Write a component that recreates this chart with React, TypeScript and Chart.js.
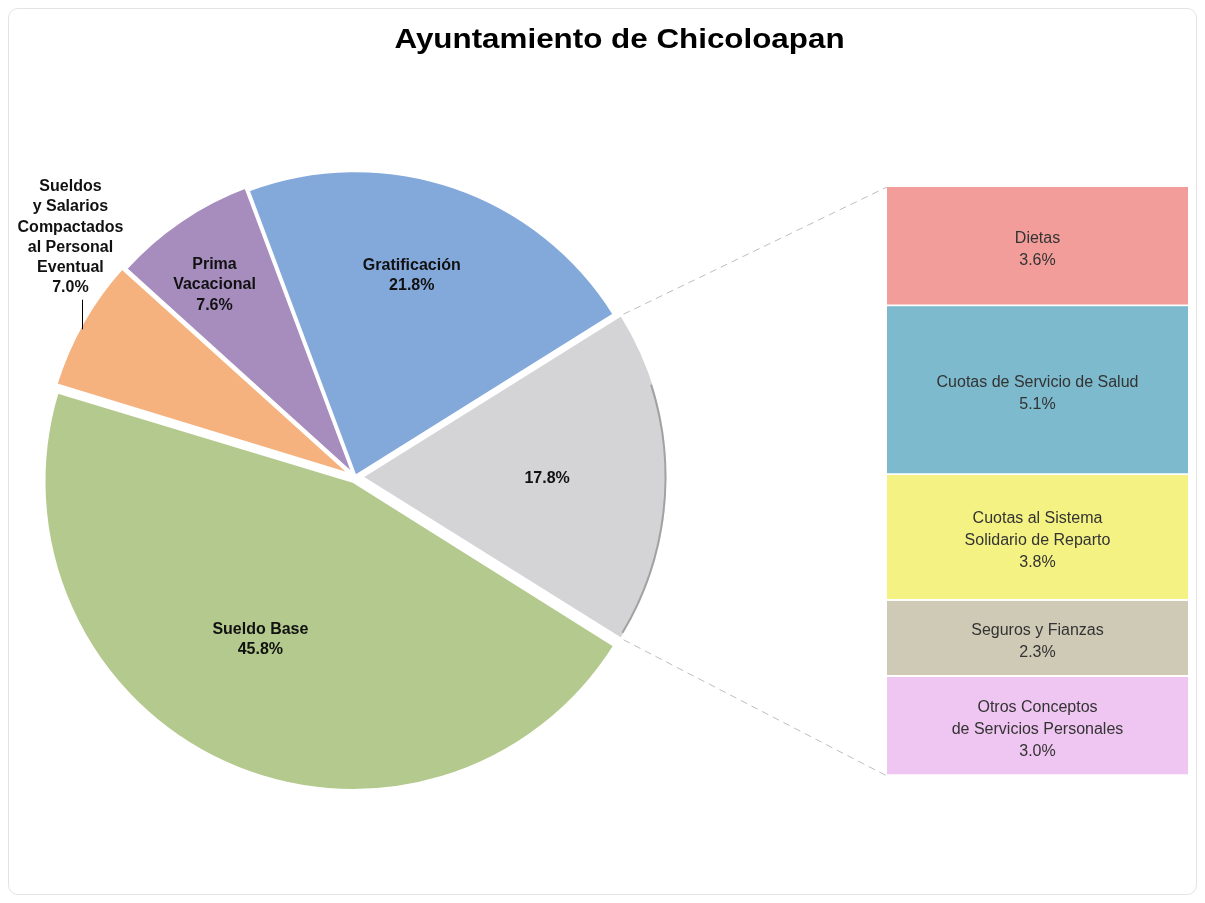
import React, { useEffect, useRef } from "react";
import { Chart, registerables } from "chart.js";

Chart.register(...registerables);

// ---------------- data ----------------
const chartTitle = "Ayuntamiento de Chicoloapan";

const pieCategories = [
  "Sueldo Base",
  "Sueldos y Salarios Compactados al Personal Eventual",
  "Prima Vacacional",
  "Gratificación",
  "Otros",
];
const pieLabelLines = [
  ["Sueldo Base"],
  ["Sueldos", "y Salarios", "Compactados", "al Personal", "Eventual"],
  ["Prima", "Vacacional"],
  ["Gratificación"],
  [],
];
const pieValues = [45.8, 7.0, 7.6, 21.8, 17.8];
const pieColors = ["#B4C98D", "#F5B27E", "#A68DBE", "#83A8DA", "#D4D4D6"];

const barCategories = [
  "Dietas",
  "Cuotas de Servicio de Salud",
  "Cuotas al Sistema Solidario de Reparto",
  "Seguros y Fianzas",
  "Otros Conceptos de Servicios Personales",
];
const barLabelLines = [
  ["Dietas"],
  ["Cuotas de Servicio de Salud"],
  ["Cuotas al Sistema", "Solidario de Reparto"],
  ["Seguros y Fianzas"],
  ["Otros Conceptos", "de Servicios Personales"],
];
const barValues = [3.6, 5.1, 3.8, 2.3, 3.0];
const barColors = ["#F29D99", "#7DBACD", "#F4F283", "#CFCAB6", "#EFC5F1"];

// ---------------- layout / styles ----------------
const W = 1189;
const H = 887;
const PIE_CX = 347;
const PIE_CY = 469;
const PIE_R = 305;
const pieOffsets = [20, 20, 12, 4, 28];
const pieLabelPlacement = [
  { shift: 5.7, frac: 0.617, outside: false },
  { shift: 10.6, frac: 1.22, outside: true },
  { shift: -2, frac: 0.78, outside: false },
  { shift: -3, frac: 0.687, outside: false },
  { shift: 0.6, frac: 0.63, outside: false },
];
const BAR_BOX = { left: 879, top: 179, width: 301, height: 589 };
const FONT = '"Liberation Sans", Arial, Helvetica, sans-serif';

const fmt = (v: number) => v.toFixed(1) + "%";

export default function App() {
  const pieRef = useRef<HTMLCanvasElement | null>(null);
  const barRef = useRef<HTMLCanvasElement | null>(null);

  useEffect(() => {
    if (!pieRef.current || !barRef.current) return;

    const barTotal = barValues.reduce((a, b) => a + b, 0);

    const barLabelPlugin = {
      id: "barLabels",
      afterDatasetsDraw(chart: any) {
        const ctx = chart.ctx;
        ctx.save();
        ctx.font = `16px ${FONT}`;
        ctx.fillStyle = "#333333";
        ctx.textAlign = "center";
        ctx.textBaseline = "middle";
        chart.data.datasets.forEach((ds: any, i: number) => {
          const el = chart.getDatasetMeta(i).data[0];
          const p = el.getProps(["x", "y", "base"], true);
          const lines = [...barLabelLines[i], fmt(barValues[i])];
          const cy = (p.y + p.base) / 2 + 3;
          const lh = 22;
          lines.forEach((t, k) => {
            ctx.fillText(t, p.x, cy + (k - (lines.length - 1) / 2) * lh);
          });
        });
        ctx.restore();
      },
    };

    const barChart = new Chart(barRef.current, {
      type: "bar",
      data: {
        labels: [""],
        datasets: barValues.map((v, i) => ({
          label: barCategories[i],
          data: [v],
          backgroundColor: barColors[i],
          borderColor: "rgba(255,255,255,0.85)",
          borderWidth: { top: 0, left: 0, right: 0, bottom: 2 },
          borderSkipped: false,
          barPercentage: 1,
          categoryPercentage: 1,
        })),
      },
      options: {
        responsive: false,
        animation: false,
        layout: { padding: 0 },
        plugins: { legend: { display: false }, tooltip: { enabled: false } },
        scales: {
          x: { stacked: true, display: false },
          y: { stacked: true, display: false, reverse: true, min: 0, max: barTotal },
        },
      },
      plugins: [barLabelPlugin],
    } as any);

    const pieTotal = pieValues.reduce((a, b) => a + b, 0);
    const otherIndex = pieValues.length - 1;
    const rotation = 90 + ((pieValues[otherIndex] / pieTotal) * 360) / 2;

    const titlePlugin = {
      id: "titleText",
      afterDraw(chart: any) {
        const ctx = chart.ctx;
        ctx.save();
        ctx.font = `bold 28px ${FONT}`;
        ctx.fillStyle = "#000000";
        ctx.textAlign = "center";
        ctx.textBaseline = "alphabetic";
        ctx.translate(611.5, 40);
        ctx.scale(1.12, 1);
        ctx.fillText(chartTitle, 0, 0);
        ctx.restore();
      },
    };

    const connectorPlugin = {
      id: "connectors",
      afterDatasetsDraw(chart: any) {
        const ctx = chart.ctx;
        const arc = chart.getDatasetMeta(0).data[otherIndex];
        const p = arc.getProps(["x", "y", "startAngle", "endAngle", "outerRadius"], true);
        const off = (arc.options.offset || 0) / 4;
        const mid = (p.startAngle + p.endAngle) / 2;
        const cx = p.x + Math.cos(mid) * off;
        const cy = p.y + Math.sin(mid) * off;
        const R = p.outerRadius;
        const a1 = { x: cx + Math.cos(p.startAngle) * R, y: cy + Math.sin(p.startAngle) * R };
        const a2 = { x: cx + Math.cos(p.endAngle) * R, y: cy + Math.sin(p.endAngle) * R };

        // subtle darker rim on the exploded slice
        ctx.save();
        ctx.strokeStyle = "rgba(120,120,120,0.55)";
        ctx.lineWidth = 2;
        ctx.beginPath();
        ctx.arc(cx, cy, R - 1.5, p.startAngle + 0.25, p.endAngle - 0.02);
        ctx.stroke();
        ctx.restore();

        const firstEl = barChart.getDatasetMeta(0).data[0] as any;
        const lastEl = barChart.getDatasetMeta(barValues.length - 1).data[0] as any;
        const f = firstEl.getProps(["x", "y", "base", "width"], true);
        const l = lastEl.getProps(["x", "y", "base", "width"], true);
        const bx = f.x - f.width / 2 + BAR_BOX.left;
        const bTop = Math.min(f.y, f.base) + BAR_BOX.top;
        const bBot = Math.max(l.y, l.base) + BAR_BOX.top;

        ctx.save();
        ctx.strokeStyle = "#BDBDBD";
        ctx.lineWidth = 1;
        ctx.setLineDash([7, 5]);
        ctx.beginPath();
        ctx.moveTo(a1.x + 3, a1.y - 1);
        ctx.lineTo(bx, bTop);
        ctx.moveTo(a2.x + 3, a2.y + 1);
        ctx.lineTo(bx, bBot);
        ctx.stroke();
        ctx.restore();
      },
    };

    const pieLabelPlugin = {
      id: "pieLabels",
      afterDatasetsDraw(chart: any) {
        const ctx = chart.ctx;
        const meta = chart.getDatasetMeta(0);
        ctx.save();
        ctx.font = `bold 16px ${FONT}`;
        ctx.fillStyle = "#111111";
        ctx.textAlign = "center";
        ctx.textBaseline = "middle";
        meta.data.forEach((arc: any, i: number) => {
          const p = arc.getProps(["x", "y", "startAngle", "endAngle", "outerRadius"], true);
          const place = pieLabelPlacement[i];
          const midOrig = (p.startAngle + p.endAngle) / 2;
          const mid = midOrig + (place.shift * Math.PI) / 180;
          const r = p.outerRadius * place.frac;
          const lx = p.x + Math.cos(mid) * r;
          const ly = p.y + Math.sin(mid) * r;
          const lines = [...pieLabelLines[i], fmt(pieValues[i])];
          const lh = 20.2;
          lines.forEach((t, k) => {
            ctx.fillText(t, lx, ly + (k - (lines.length - 1) / 2) * lh);
          });
          if (place.outside) {
            const off = (arc.options.offset || 0) / 4;
            const tcx = p.x + Math.cos(midOrig) * off;
            const tcy = p.y + Math.sin(midOrig) * off;
            const lineX = lx + 12;
            const startY = ly + ((lines.length - 1) / 2) * lh + 12;
            const dx = lineX - tcx;
            const endY = tcy - Math.sqrt(Math.max(p.outerRadius * p.outerRadius - dx * dx, 0));
            ctx.strokeStyle = "#000000";
            ctx.lineWidth = 1;
            ctx.beginPath();
            ctx.moveTo(Math.round(lineX) + 0.5, startY);
            ctx.lineTo(Math.round(lineX) + 0.5, endY);
            ctx.stroke();
          }
        });
        ctx.restore();
      },
    };

    const pieChart = new Chart(pieRef.current, {
      type: "pie",
      data: {
        labels: pieCategories,
        datasets: [
          {
            data: pieValues,
            backgroundColor: pieColors,
            borderColor: "#FFFFFF",
            borderWidth: 2.5,
            offset: pieOffsets,
            rotation: rotation,
            radius: PIE_R,
          },
        ],
      },
      options: {
        responsive: false,
        animation: false,
        rotation: rotation,
        radius: PIE_R,
        layout: {
          padding: { left: 0, right: W - 2 * PIE_CX, top: 2 * PIE_CY - H, bottom: 0 },
        },
        plugins: { legend: { display: false }, tooltip: { enabled: false } },
      },
      plugins: [connectorPlugin, pieLabelPlugin, titlePlugin],
    } as any);

    return () => {
      pieChart.destroy();
      barChart.destroy();
    };
  }, []);

  return (
    <div style={{ position: "relative", width: W, height: H, background: "#FFFFFF" }}>
      <div
        style={{
          position: "absolute",
          left: 0,
          top: 0,
          width: W,
          height: H,
          boxSizing: "border-box",
          border: "1px solid #E3E3E3",
          borderRadius: 10,
          pointerEvents: "none",
        }}
      />
      <canvas
        ref={pieRef}
        width={W}
        height={H}
        style={{ position: "absolute", left: 0, top: 0, width: W, height: H }}
      />
      <canvas
        ref={barRef}
        width={BAR_BOX.width}
        height={BAR_BOX.height}
        style={{
          position: "absolute",
          left: BAR_BOX.left,
          top: BAR_BOX.top,
          width: BAR_BOX.width,
          height: BAR_BOX.height,
        }}
      />
    </div>
  );
}
